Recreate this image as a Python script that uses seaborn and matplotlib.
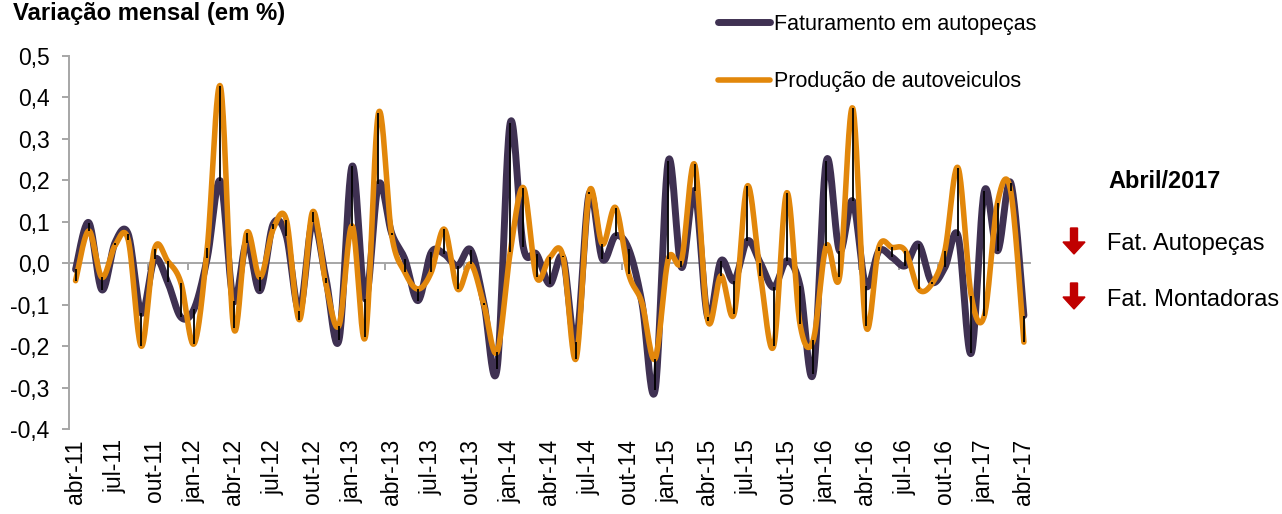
import numpy as np
import pandas as pd
import seaborn as sns
import matplotlib
matplotlib.use("Agg")
import matplotlib.pyplot as plt
from matplotlib.lines import Line2D
from matplotlib.patches import FancyArrow

# monthly change, abr-11 .. abr-17
meses = ["jan", "fev", "mar", "abr", "mai", "jun", "jul", "ago", "set", "out", "nov", "dez"]
labels = [f"{meses[(3 + i) % 12]}-{11 + (3 + i) // 12}" for i in range(73)]

fat_autopecas = [
    -0.015, 0.098, -0.064, 0.050, 0.070, -0.120, 0.010, -0.046, -0.130,
    -0.110, 0.013, 0.198, -0.090, 0.050, -0.066, 0.094, 0.066, -0.114, 0.100, -0.035, -0.185,
    0.234, -0.086, 0.190, 0.072, 0.010, -0.090, 0.026, 0.022, -0.006, 0.032, -0.095, -0.255,
    0.338, 0.038, 0.022, -0.050, 0.014, -0.190, 0.168, 0.010, 0.066, 0.034, -0.095, -0.306,
    0.246, -0.010, 0.174, -0.130, 0.006, -0.042, 0.054, 0.000, -0.058, 0.006, -0.054, -0.266,
    0.246, 0.030, 0.150, -0.054, 0.030, 0.014, -0.006, 0.046, -0.045, -0.010, 0.066, -0.217,
    0.174, 0.030, 0.194, -0.126,
]
prod_autoveiculos = [
    -0.042, 0.078, -0.034, 0.043, 0.056, -0.200, 0.035, 0.005, -0.047,
    -0.194, 0.037, 0.426, -0.155, 0.074, -0.034, 0.082, 0.105, -0.136, 0.124, -0.048, -0.150,
    0.090, -0.178, 0.362, 0.068, -0.022, -0.062, -0.022, 0.082, -0.062, -0.002, -0.100, -0.214,
    0.026, 0.182, -0.034, 0.014, 0.018, -0.230, 0.172, 0.046, 0.134, -0.026, -0.095, -0.230,
    0.010, 0.006, 0.238, -0.138, -0.030, -0.122, 0.186, -0.030, -0.200, 0.170, -0.146, -0.186,
    0.042, -0.034, 0.374, -0.150, 0.040, 0.038, 0.030, -0.062, -0.050, 0.030, 0.230, -0.078,
    -0.126, 0.146, 0.174, -0.190,
]
y_ticks = [-0.4, -0.3, -0.2, -0.1, 0.0, 0.1, 0.2, 0.3, 0.4, 0.5]
y_ticklabels = ["-0,4", "-0,3", "-0,2", "-0,1", "0,0", "0,1", "0,2", "0,3", "0,4", "0,5"]

PURPLE = "#3f3152"
ORANGE = "#e2870b"
GRAY = "#a6a6a6"


def smooth(y, n=24):
    """Excel-like smoothed line (Catmull-Rom through every point)."""
    x = np.arange(len(y), dtype=float)
    y = np.asarray(y, dtype=float)
    px = np.concatenate([[x[0]], x, [x[-1]]])
    py = np.concatenate([[y[0]], y, [y[-1]]])
    t = np.linspace(0, 1, n, endpoint=False)[:, None]
    xs, ys = [], []
    for i in range(len(y) - 1):
        p0 = np.array([x[i], y[i]])
        p3 = np.array([x[i + 1], y[i + 1]])
        p1 = p0 + (np.array([px[i + 2], py[i + 2]]) - np.array([px[i], py[i]])) / 6
        p2 = p3 - (np.array([px[i + 3], py[i + 3]]) - np.array([px[i + 1], py[i + 1]])) / 6
        b = (1 - t) ** 3 * p0 + 3 * (1 - t) ** 2 * t * p1 + 3 * (1 - t) * t ** 2 * p2 + t ** 3 * p3
        xs.append(b[:, 0])
        ys.append(b[:, 1])
    xs.append([x[-1]])
    ys.append([y[-1]])
    return np.concatenate(xs), np.concatenate(ys)


sns.set_theme(style="white")
plt.rcParams["font.family"] = ["Liberation Sans", "DejaVu Sans"]
plt.rcParams["text.color"] = "black"
plt.rcParams["xtick.color"] = "black"
plt.rcParams["ytick.color"] = "black"

fig = plt.figure(figsize=(12.82, 5.14), dpi=100)
ax = fig.add_axes([0.0538, 0.1648, 0.75, 0.7268])

xf, yf = smooth(fat_autopecas)
xp, yp = smooth(prod_autoveiculos)
sns.lineplot(x=xf, y=yf, ax=ax, color=PURPLE, lw=5.0, sort=False, estimator=None, zorder=2)
sns.lineplot(x=xp, y=yp, ax=ax, color=ORANGE, lw=4.0, sort=False, estimator=None, zorder=3)

# high-low lines between the two series
idx = np.arange(len(labels))
lo = np.minimum(fat_autopecas, prod_autoveiculos)
hi = np.maximum(fat_autopecas, prod_autoveiculos)
ax.vlines(idx, lo, hi, color="black", lw=1.3, zorder=4)

ax.set_xlim(-0.5, len(labels) - 0.5)
ax.set_ylim(-0.4, 0.5)
ax.set_yticks(y_ticks)
ax.set_yticklabels(y_ticklabels)
ax.set_xticks(idx[::3])
ax.set_xticklabels(labels[::3], rotation=90)

for s in ["top", "right", "bottom"]:
    ax.spines[s].set_visible(False)
ax.spines["left"].set_color(GRAY)
ax.spines["left"].set_linewidth(1.4)
ax.tick_params(axis="y", which="major", direction="out", length=5, width=1.4,
               color=GRAY, labelcolor="black", pad=9, labelsize=16.5, left=True)
ax.tick_params(axis="x", which="major", length=0, pad=7, labelsize=16.5, labelcolor="black")

# category axis crossing at zero
zero_ax = ax.secondary_xaxis(0.4 / 0.9)
zero_ax.spines["bottom"].set_color(GRAY)
zero_ax.spines["bottom"].set_linewidth(1.4)
zero_ax.set_xticks(np.arange(-0.5, len(labels), 3))
zero_ax.tick_params(axis="x", direction="out", length=5, width=1.4, color=GRAY,
                    labelbottom=False, bottom=True)

fig.text(0.0101, 0.962, "Variação mensal (em %)", fontsize=17.2, fontweight="bold",
         va="baseline", ha="left", color="black")

handles = [Line2D([], [], color=PURPLE, lw=5.0), Line2D([], [], color=ORANGE, lw=4.0)]
fig.legend(handles, ["Faturamento em autopeças", "Produção de autoveiculos"],
           loc="upper left", bbox_to_anchor=(0.555, 0.986), frameon=False,
           fontsize=15.5, handlelength=2.4, handletextpad=0.2, labelspacing=1.7,
           borderpad=0.3, borderaxespad=0, labelcolor="black")

fig.text(0.8643, 0.646, "Abril/2017", fontsize=16.9, fontweight="bold", va="center", ha="left")
fig.text(0.8635, 0.525, "Fat. Autopeças", fontsize=17, va="center", ha="left")
fig.text(0.8635, 0.416, "Fat. Montadoras", fontsize=17, va="center", ha="left")
for ytop in [2.86, 2.31]:
    fig.patches.append(FancyArrow(10.74, ytop, 0, -0.26, width=0.07, head_width=0.22,
                                  head_length=0.12, length_includes_head=True,
                                  color="#c00000", transform=fig.dpi_scale_trans))

fig.savefig("out.png", dpi=100)
